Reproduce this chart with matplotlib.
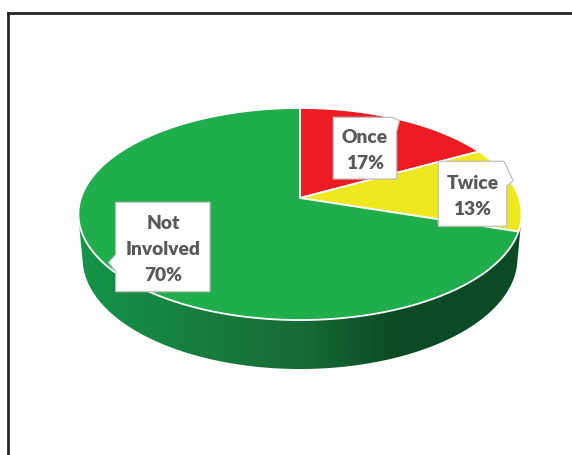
import numpy as np
import matplotlib
matplotlib.use("Agg")
import matplotlib.pyplot as plt
from matplotlib.patches import Polygon
from matplotlib.colors import LinearSegmentedColormap

# ---- data -------------------------------------------------------------
categories = ["Once", "Twice", "Not\nInvolved"]
shares = [17, 13, 70]
slice_colors = ["#ED1C24", "#F0E81E", "#20AE4C"]

# ---- canvas (pixel coordinates, y downwards) --------------------------
W, H = 572, 456
fig = plt.figure(figsize=(W / 100, H / 100), dpi=100)
ax = fig.add_axes([0, 0, 1, 1])
ax.set_xlim(0, W)
ax.set_ylim(H, 0)
ax.axis("off")

# ---- perspective camera for the 3-D disc ------------------------------
SIN_A = 0.473
COS_A = np.sqrt(1 - SIN_A ** 2)
DIST, FOCAL = 5.83, 1277.0
CX, CY = 300.0, 199.0
THICK = 0.232


def project(X, Y, Z):
    v = Y * SIN_A + Z * COS_A
    d = DIST + Y * COS_A - Z * SIN_A
    return CX + FOCAL * X / d, CY - FOCAL * v / d


# ---- visible side wall of the cylinder --------------------------------
sil = np.arcsin(-1.0 / (DIST * COS_A))
phi = np.linspace(np.pi - sil, 2 * np.pi + sil, 400)
tx, ty = project(np.cos(phi), np.sin(phi), 0.0)
bx, by = project(np.cos(phi), np.sin(phi), -THICK)
side_xy = np.column_stack([np.r_[tx, bx[::-1]], np.r_[ty, by[::-1]]])
side_poly = Polygon(side_xy, closed=True, facecolor="none", edgecolor="none")
ax.add_patch(side_poly)

side_cmap = LinearSegmentedColormap.from_list(
    "side",
    [(0.0, "#13954A"), (0.28, "#187C3D"), (0.5, "#176B36"),
     (0.72, "#0C4A24"), (1.0, "#0A4A24")],
)
x0, x1 = side_xy[:, 0].min(), side_xy[:, 0].max()
y0, y1 = side_xy[:, 1].min(), side_xy[:, 1].max()
grad = np.linspace(0, 1, 512)[None, :]
img = ax.imshow(grad, cmap=side_cmap, extent=[x0, x1, y1, y0],
                aspect="auto", interpolation="bilinear", zorder=1)
img.set_clip_path(side_poly)

# ---- top face slices ---------------------------------------------------
start = 90.0
for share, col in zip(shares, slice_colors):
    sweep = 360.0 * share / sum(shares)
    th = np.radians(np.linspace(start, start - sweep, 200))
    rx, ry = project(np.cos(th), np.sin(th), 0.0)
    vx, vy = project(0.0, 0.0, 0.0)
    pts = np.column_stack([np.r_[vx, rx], np.r_[vy, ry]])
    ax.add_patch(Polygon(pts, closed=True, facecolor=col, edgecolor="white",
                         linewidth=1.3, joinstyle="round", zorder=2))
    start -= sweep

# ---- chart-area frame --------------------------------------------------
frame_kw = dict(color="#262626", linewidth=2.0, solid_capstyle="projecting",
                clip_on=False, zorder=5)
ax.plot([7.8, 7.8], [H + 5, 13.7], **frame_kw)
ax.plot([7.8, W + 5], [13.7, 13.7], **frame_kw)

# ---- data callouts -----------------------------------------------------
callouts = [
    # box left, top, right, bottom and outline with its pointer
    dict(box=(333.3, 118.3, 396.7, 180.0),
         outline=[(333.3, 118.3), (392.0, 118.3), (399.5, 121.5),
                  (396.7, 132.0), (396.7, 180.0), (333.3, 180.0)]),
    dict(box=(438.3, 162.3, 506.7, 227.3),
         outline=[(438.3, 162.3), (504.0, 162.3), (513.0, 181.5),
                  (506.7, 187.5), (506.7, 227.3), (438.3, 227.3)]),
    dict(box=(115.7, 203.3, 210.0, 292.7),
         outline=[(115.7, 203.3), (210.0, 203.3), (210.0, 292.7),
                  (115.7, 292.7), (115.7, 272.5), (108.5, 263.5),
                  (115.7, 255.5)]),
]

CAP = 13.3
STEP = 26.0
for name, share, co in zip(categories, shares, callouts):
    ax.add_patch(Polygon(co["outline"], closed=True, facecolor="white",
                         edgecolor="#BFBFBF", linewidth=0.9, zorder=6))
    lines = name.split("\n") + [f"{share}%"]
    l, t, r, b = co["box"]
    cxb, cyb = (l + r) / 2, (t + b) / 2
    top = cyb - (CAP + (len(lines) - 1) * STEP) / 2
    for i, line in enumerate(lines):
        ax.text(cxb, top + CAP + i * STEP + 0.5, line, ha="center",
                va="baseline", fontsize=13.8, fontweight="heavy",
                family=["Lato", "DejaVu Sans"], color="#595959", zorder=7)

fig.savefig("out.png", dpi=100, facecolor="white")
